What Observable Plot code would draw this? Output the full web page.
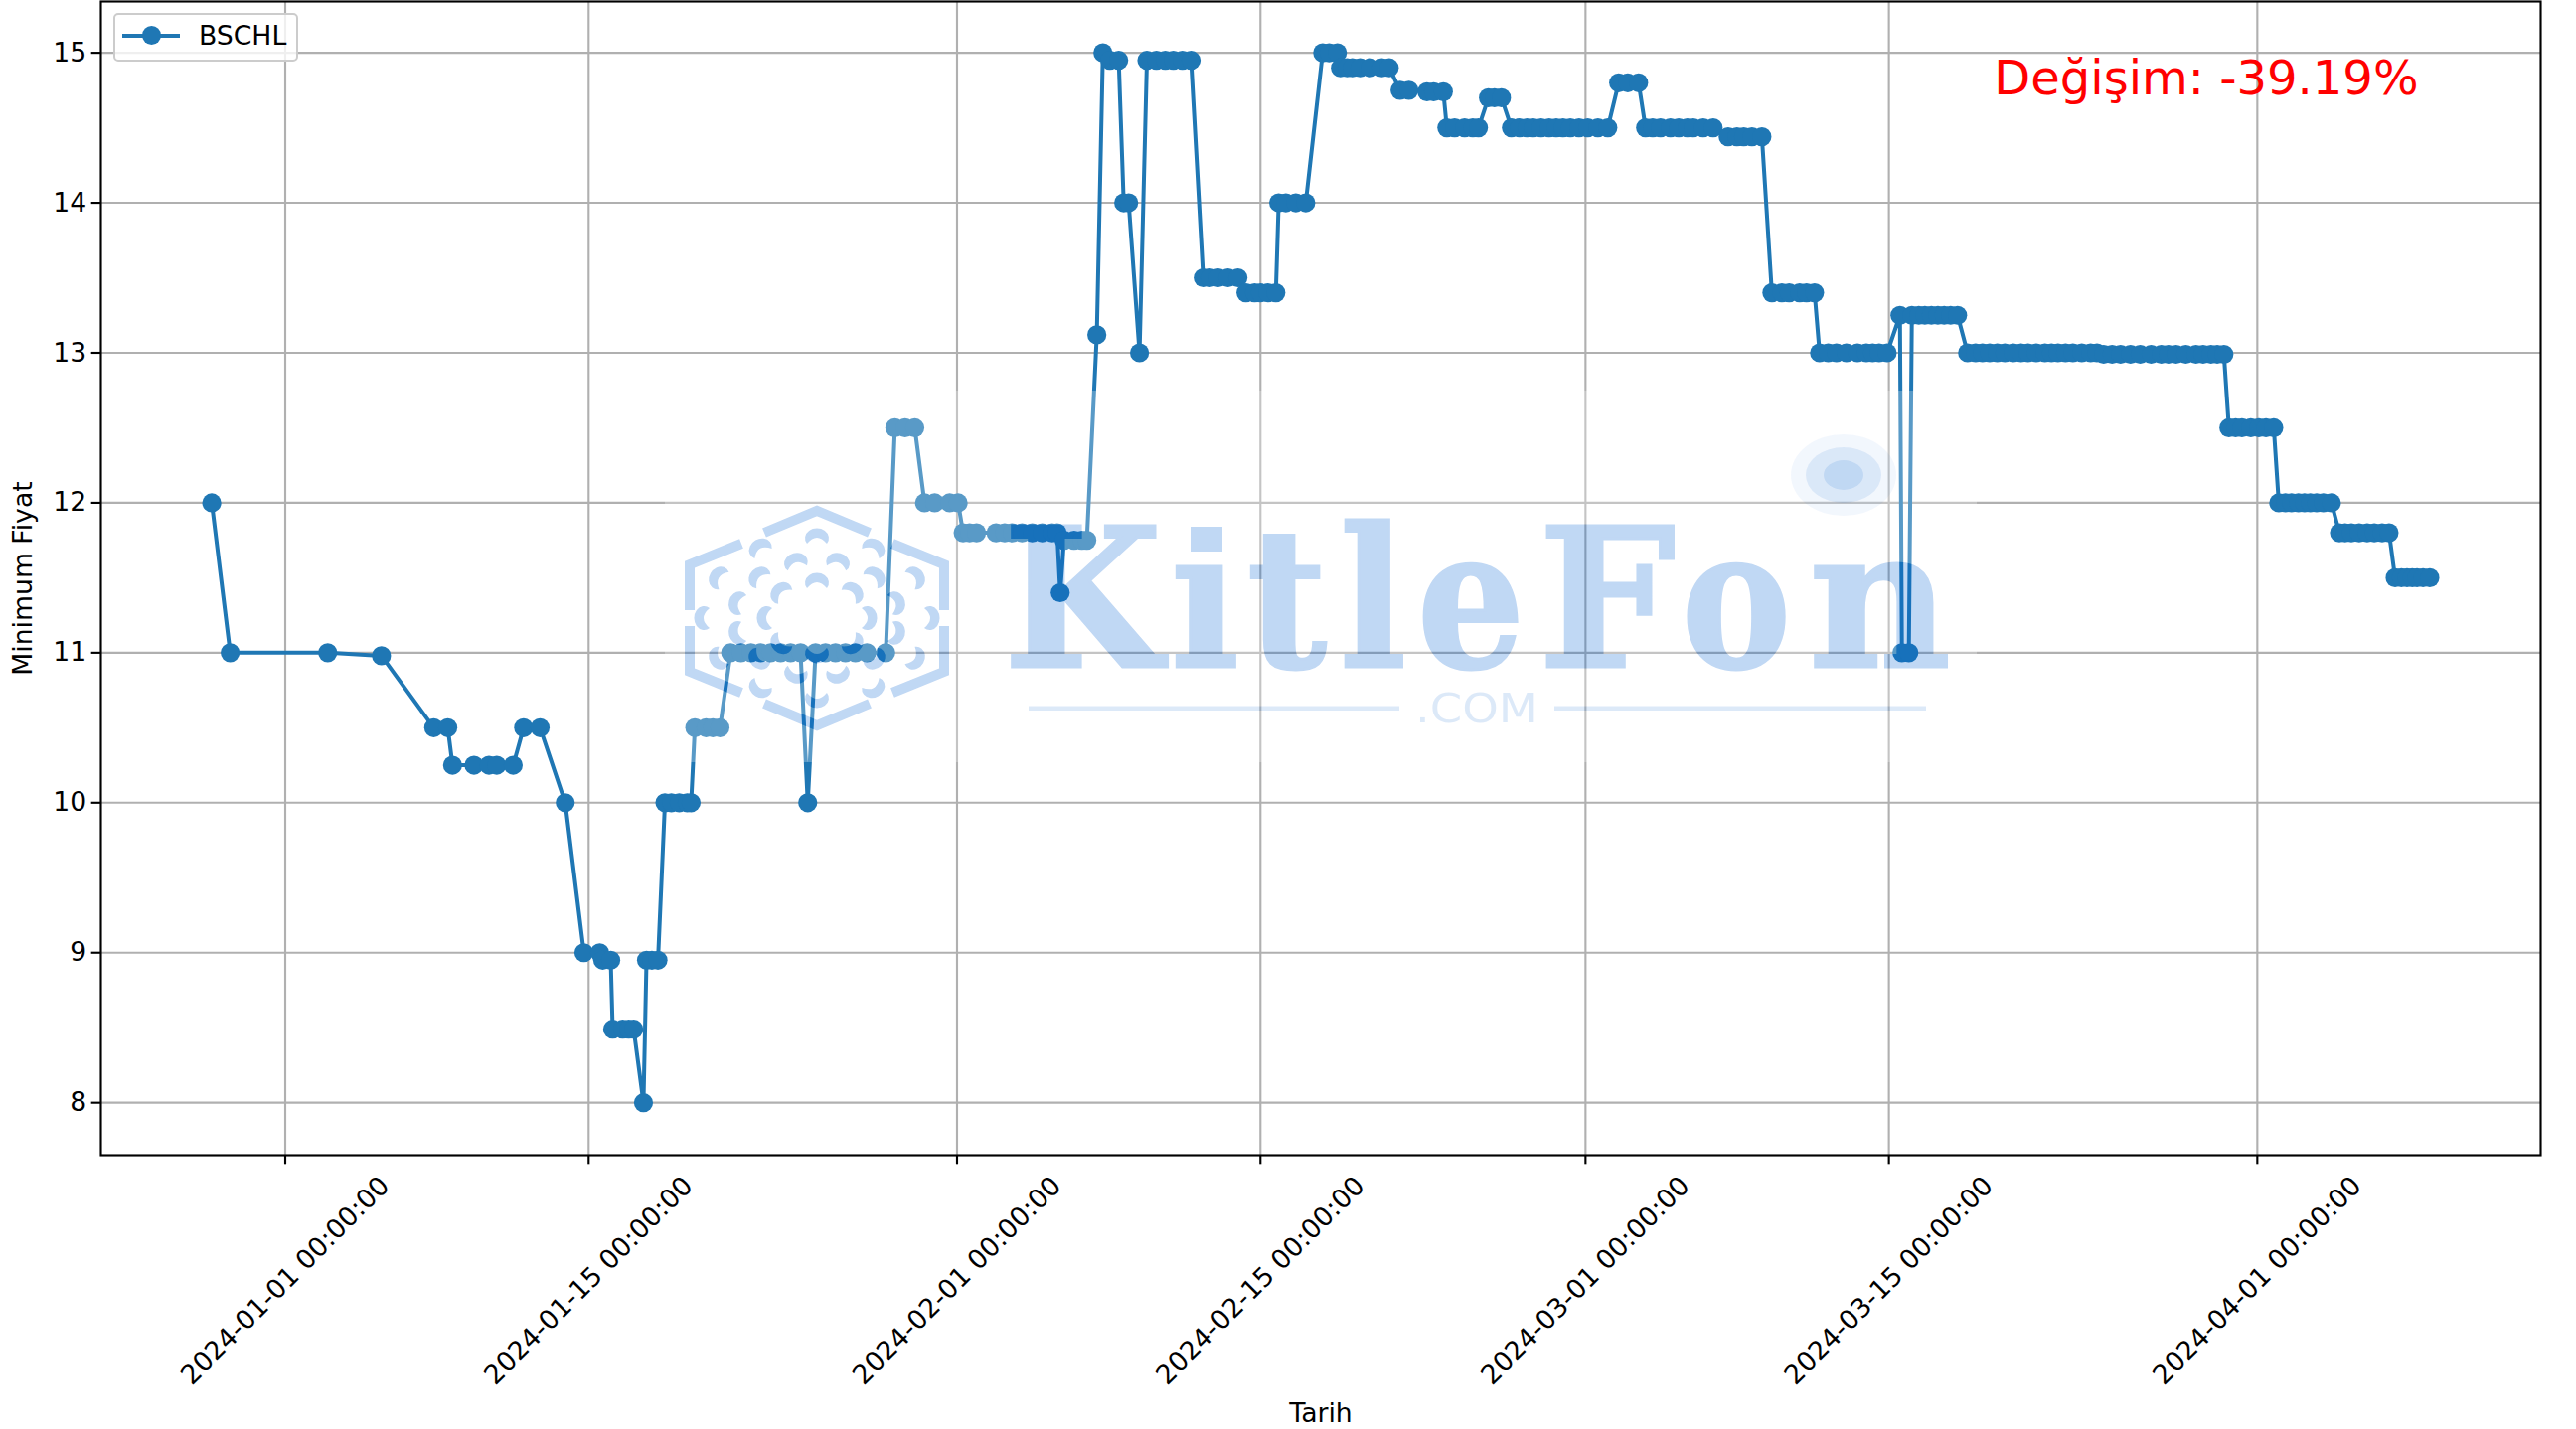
<!DOCTYPE html>
<html><head><meta charset="utf-8">
<script src="https://cdn.jsdelivr.net/npm/d3@7"></script>
<script src="https://cdn.jsdelivr.net/npm/@observablehq/plot@0.6"></script>
<style>
html,body{margin:0;padding:0;background:#fff}
#wrap{position:relative;width:2592px;height:1438px;overflow:hidden;font-family:"DejaVu Sans",sans-serif}
#wrap svg{display:block}
#legend{position:absolute;left:114px;top:13px;width:182px;height:45px;background:rgba(255,255,255,.8);border:2.1px solid #ccc;border-radius:5px}
#legend .ln{position:absolute;left:7px;top:18.5px;width:58px;height:4px;background:#1f77b4}
#legend .mk{position:absolute;left:26.5px;top:11px;width:19px;height:19px;border-radius:50%;background:#1f77b4}
#legend .tx{position:absolute;left:84px;top:3px;font-size:26.67px;line-height:36px;color:#000}
#wm{position:absolute;left:0;top:0;pointer-events:none}
</style></head><body>
<div id="wrap"></div>
<script>
const seriesName = "BSCHL";
const changeLabel = "Değişim: -39.19%";
const xLabel = "Tarih";
const yLabel = "Minimum Fiyat";
const xTickDates = ["2024-01-01","2024-01-15","2024-02-01","2024-02-15","2024-03-01","2024-03-15","2024-04-01"];
const yTickValues = [8,9,10,11,12,13,14,15];
// each price level, in order, and the days (since 2024-01-01 UTC) spent at it
const priceLevels = [12,11,10.98,10.5,10.25,10.5,10,9,8.95,8.49,8,8.95,10,10.5,11,10,11,12.5,12,11.8,11.4,11.75,13.12,15,14.95,14,13,14.95,13.5,13.4,14,15,14.9,14.75,14.74,14.5,14.7,14.5,14.8,14.5,14.44,13.4,13,13.25,11,13.25,13,12.99,12.5,12,11.8,11.5];
const levelDays = [
[-3.39],[-2.54,1.96],[4.44],[6.85,7.50],[7.72,8.71,9.40,9.76,10.52],[11.0,11.76],[12.92],[13.78,14.51],[14.65,15.02],[15.11,15.57,15.85,16.08],[16.53],[16.67,16.92,17.2],
[17.52,17.82,18.18,18.55,18.73],[18.9,19.42,19.73,20.06],[20.55,21.03,21.49,21.94,22.4,22.86,23.32,23.78],[24.11],[24.47,24.93,25.39,25.85,26.31,26.84,27.71],
[28.13,28.6,29.05],[29.5,29.97,30.66,31.05],[31.28,31.58,31.9,32.8,33.2,33.55,34.0,34.47,34.93,35.39,35.62],[35.76],[35.94,36.4,36.76,36.99],[37.45],[37.73],[38.05,38.46],[38.69,38.92],[39.42],
[39.76,40.2,40.61,40.98,41.4,41.8],[42.36,42.67,43.05,43.5,43.96],[44.33,44.73,45.0,45.34,45.71],[45.84,46.17,46.63,47.09],[47.87,48.17,48.55],[48.69,49.0,49.24,49.6,50.06,50.6,50.94],[51.44,51.85],
[52.68,52.99,53.44],[53.6,53.96,54.42,54.8,55.06],[55.52,55.8,56.12],[56.58,56.95,57.3,57.59,57.95,58.32,58.65,58.96,59.3,59.7,60.1,60.57,61.03],[61.53,61.95,62.45],[62.77,63.1,63.46,63.92,64.3,64.7,64.97,65.43,65.89],
[66.58,66.99,67.3,67.68,68.14],[68.6,69.06,69.4,69.88,70.2,70.57],[70.8,71.2,71.58,72.04,72.55,72.96,73.25,73.55,73.92],[74.51],[74.6,74.92],[75.06,75.38,75.66,75.96,76.26,76.55,76.85,77.17],
[77.63,78.0,78.32,78.65,79.0,79.35,79.74,80.1,80.42,80.8,81.2,81.5,81.8,82.15,82.49,82.9,83.31,83.6],[83.91,84.3,84.69,85.15,85.6,86.1,86.57,86.9,87.25,87.7,88.17,88.5,88.86,89.15,89.46],
[89.69,90.0,90.29,90.7,91.07,91.4,91.76],[91.99,92.3,92.58,92.9,93.18,93.45,93.74,94.05,94.42],[94.79,95.05,95.34,95.7,96.07,96.4,96.76,97.08],[97.36,97.65,97.91,98.15,98.37,98.65,98.96]];

const toDate = d => new Date(Date.UTC(2024,0,1) + d*864e5);
const rows = levelDays.flatMap((days,i)=>days.map(d=>({date:toDate(d), price:priceLevels[i]})));
const allDays = levelDays.flat();
const xTicks = xTickDates.map(s=>new Date(s+"T00:00:00Z"));
const dMin = d3.min(allDays), dMax = d3.max(allDays), pad=(dMax-dMin)*0.05;
const fmt = d3.utcFormat("%Y-%m-%d %H:%M:%S");
const FS = 26.67, blue="#1f77b4";

const chart = Plot.plot({
  width:2592,height:1438,marginLeft:101,marginRight:36,marginTop:1,marginBottom:276,
  style:{fontFamily:'"DejaVu Sans",sans-serif',background:"#fff",color:"#000",overflow:"visible"},
  x:{type:"utc",domain:[toDate(dMin-pad),toDate(dMax+pad)]},
  y:{domain:[7.65,15.342]},
  marks:[
    Plot.gridX(xTicks,{stroke:"#b0b0b0",strokeOpacity:1,strokeWidth:2.13}),
    Plot.gridY(yTickValues,{stroke:"#b0b0b0",strokeOpacity:1,strokeWidth:2.13}),
    Plot.line(rows,{x:"date",y:"price",stroke:blue,strokeWidth:4}),
    Plot.dot(rows,{x:"date",y:"price",r:9.6,fill:blue,stroke:"none"}),
    Plot.frame({stroke:"#000",strokeWidth:2.13}),
    Plot.axisX(xTicks,{tickSize:9.33,strokeWidth:2.13,fontSize:FS,tickFormat:fmt,tickRotate:-45,lineAnchor:"middle",textAnchor:"middle",tickPadding:117,label:xLabel,labelAnchor:"center",labelArrow:"none",labelOffset:268}),
    Plot.axisY(yTickValues,{tickSize:9.33,strokeWidth:2.13,fontSize:FS,tickPadding:5,tickFormat:"d",label:yLabel,labelAnchor:"center",labelArrow:"none",labelOffset:88}),
    Plot.text([changeLabel],{frameAnchor:"top-right",dx:-123,dy:78,lineAnchor:"middle",textAnchor:"end",fill:"red",fontSize:48})
  ]
});
const wrap=document.getElementById("wrap");
wrap.appendChild(chart);

// watermark
const NS="http://www.w3.org/2000/svg";
const R={x0:669,y0:393,x1:1989,y1:767};
const cx=822,cy=622;
let logo="";
const segs=[
 [[-53,-86],[0,-108],[53,-86]],
 [[76,-75],[128,-54],[128,-8]],
 [[128,8],[128,54],[76,75]],
 [[53,86],[0,108],[-53,86]],
 [[-76,75],[-128,54],[-128,8]],
 [[-128,-8],[-128,-54],[-76,-75]]
];
segs.forEach(s=>{logo+=`<polyline points="${s.map(p=>(cx+p[0])+","+(cy+p[1])).join(" ")}" fill="none" stroke="currentColor" stroke-width="10"/>`});
const petal="M-10 7A12 10 0 1 1 10 7Q5 1 0 1Q-5 1 -10 7Z";
function ring(n,start,rx,ry){for(let i=0;i<n;i++){const a=(start+i*360/n);const t=a*Math.PI/180;
  const px=cx+rx*Math.sin(t),py=cy-ry*Math.cos(t);
  logo+=`<path d="${petal}" transform="translate(${px},${py}) rotate(${a})" fill="currentColor"/>`}}
ring(12,0,115,82);ring(12,15,83,59);ring(8,0,52,37);
const letters=[["K",1010,1169],["ı",1178,1247],["t",1255,1335],["l",1348,1415],["e",1426,1534],["F",1548,1686],["o",1692,1802],["n",1820,1963]];
letters.forEach(([c,a,b])=>{logo+=`<text x="${a}" y="671" font-family="DejaVu Serif" font-weight="bold" font-size="195" textLength="${b-a}" lengthAdjust="spacingAndGlyphs" fill="currentColor" stroke="currentColor" stroke-width="3">${c}</text>`});
logo+=`<rect x="1198" y="530" width="32" height="25" fill="currentColor"/>`;
logo+=`<rect x="1035" y="710.5" width="373" height="4.5" fill="currentColor" opacity=".55"/><rect x="1564" y="710.5" width="374" height="4.5" fill="currentColor" opacity=".55"/>`;
logo+=`<text x="1424" y="727" font-family="DejaVu Sans" font-size="40" textLength="124" lengthAdjust="spacingAndGlyphs" fill="currentColor" opacity=".55">.COM</text>`;
const wm=document.createElementNS(NS,"svg");
wm.setAttribute("id","wm");wm.setAttribute("width",2592);wm.setAttribute("height",1438);
wm.innerHTML=`<defs><g id="lg">${logo}</g>
<mask id="mk" maskUnits="userSpaceOnUse" x="0" y="0" width="2592" height="1438"><rect width="2592" height="1438" fill="#fff"/><use href="#lg" color="#000"/></mask></defs>
<rect x="${R.x0}" y="${R.y0}" width="${R.x1-R.x0}" height="${R.y1-R.y0}" fill="#fff" fill-opacity=".26" mask="url(#mk)"/>
<use href="#lg" color="rgb(2,96,208)" opacity=".25"/>
<ellipse cx="1855" cy="478" rx="53" ry="41" fill="rgb(2,96,208)" opacity=".05"/>
<ellipse cx="1855" cy="478" rx="38" ry="28" fill="rgb(2,96,208)" opacity=".1"/>
<ellipse cx="1855" cy="478" rx="20" ry="15" fill="rgb(2,96,208)" opacity=".12"/>`;
wrap.appendChild(wm);

const lg=document.createElement("div");lg.id="legend";
lg.innerHTML=`<div class="ln"></div><div class="mk"></div><div class="tx">${seriesName}</div>`;
wrap.appendChild(lg);
</script>
</body></html>
